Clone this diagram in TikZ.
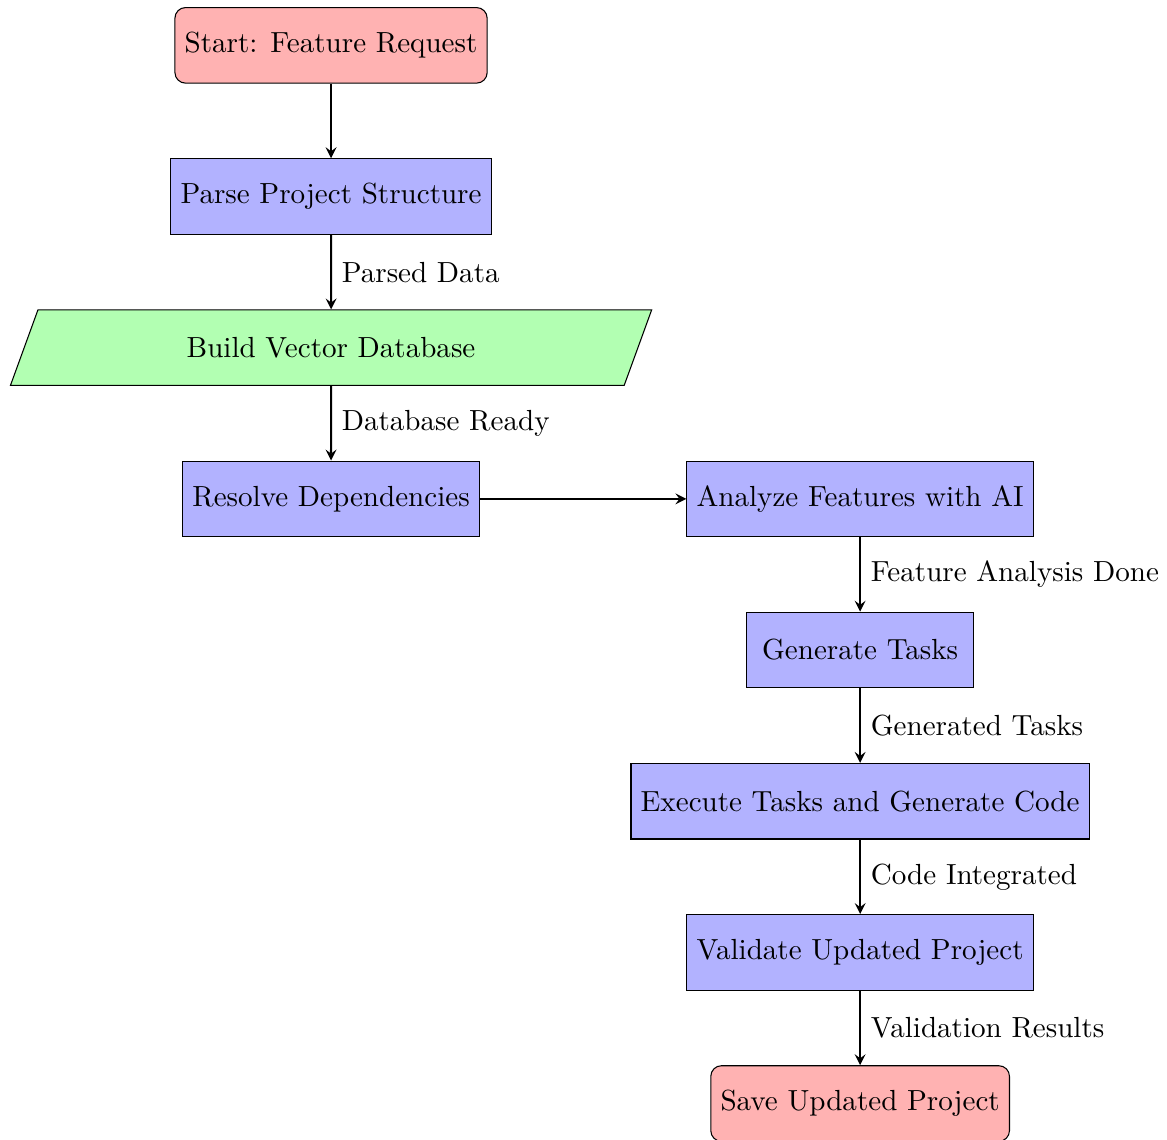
\documentclass[11pt,tikz,border=0pt]{standalone}
\usepackage{amsmath, amssymb}
\usepackage{tikz}
\usetikzlibrary{shapes.geometric, arrows, positioning}

\tikzset{
  startstop/.style={rectangle, rounded corners, minimum width=3cm, minimum height=1cm, text centered, draw=black, fill=red!30},
  process/.style={rectangle, minimum width=3cm, minimum height=1cm, text centered, draw=black, fill=blue!30},
  io/.style={trapezium, trapezium left angle=70, trapezium right angle=110, text width=7.5cm, align=center, text height=7.6pt, text depth=0pt, inner ysep=10.4pt, draw=black, fill=green!30},
  arrow/.style={thick, ->, >=stealth}
}

\begin{document}
\begin{tikzpicture}
  \useasboundingbox (-4.38,0.6) rectangle (11.06,-14.47);
  \node (start) [startstop] at (0,0) {Start: Feature Request};
  \node (parse) [process] at (0,-2) {Parse Project Structure};
  \node (vecdb) [io] at (0,-4) {Build Vector Database};
  \node (deps) [process] at (0,-6) {Resolve Dependencies};
  \node (analyze) [process] at (7,-6) {Analyze Features with AI};
  \node (tasks) [process] at (7,-8) {Generate Tasks};
  \node (execute) [process] at (7,-10) {Execute Tasks and Generate Code};
  \node (validate) [process] at (7,-12) {Validate Updated Project};
  \node (save) [startstop] at (7,-14) {Save Updated Project};

  \draw [arrow] (start) -- (parse);
  \draw [arrow] (parse) -- node[right] {Parsed Data} (vecdb);
  \draw [arrow] (vecdb) -- node[right] {Database Ready} (deps);
  \draw [arrow] (deps) -- (analyze);
  \draw [arrow] (analyze) -- node[right] {Feature Analysis Done} (tasks);
  \draw [arrow] (tasks) -- node[right] {Generated Tasks} (execute);
  \draw [arrow] (execute) -- node[right] {Code Integrated} (validate);
  \draw [arrow] (validate) -- node[right] {Validation Results} (save);
\end{tikzpicture}
\end{document}
